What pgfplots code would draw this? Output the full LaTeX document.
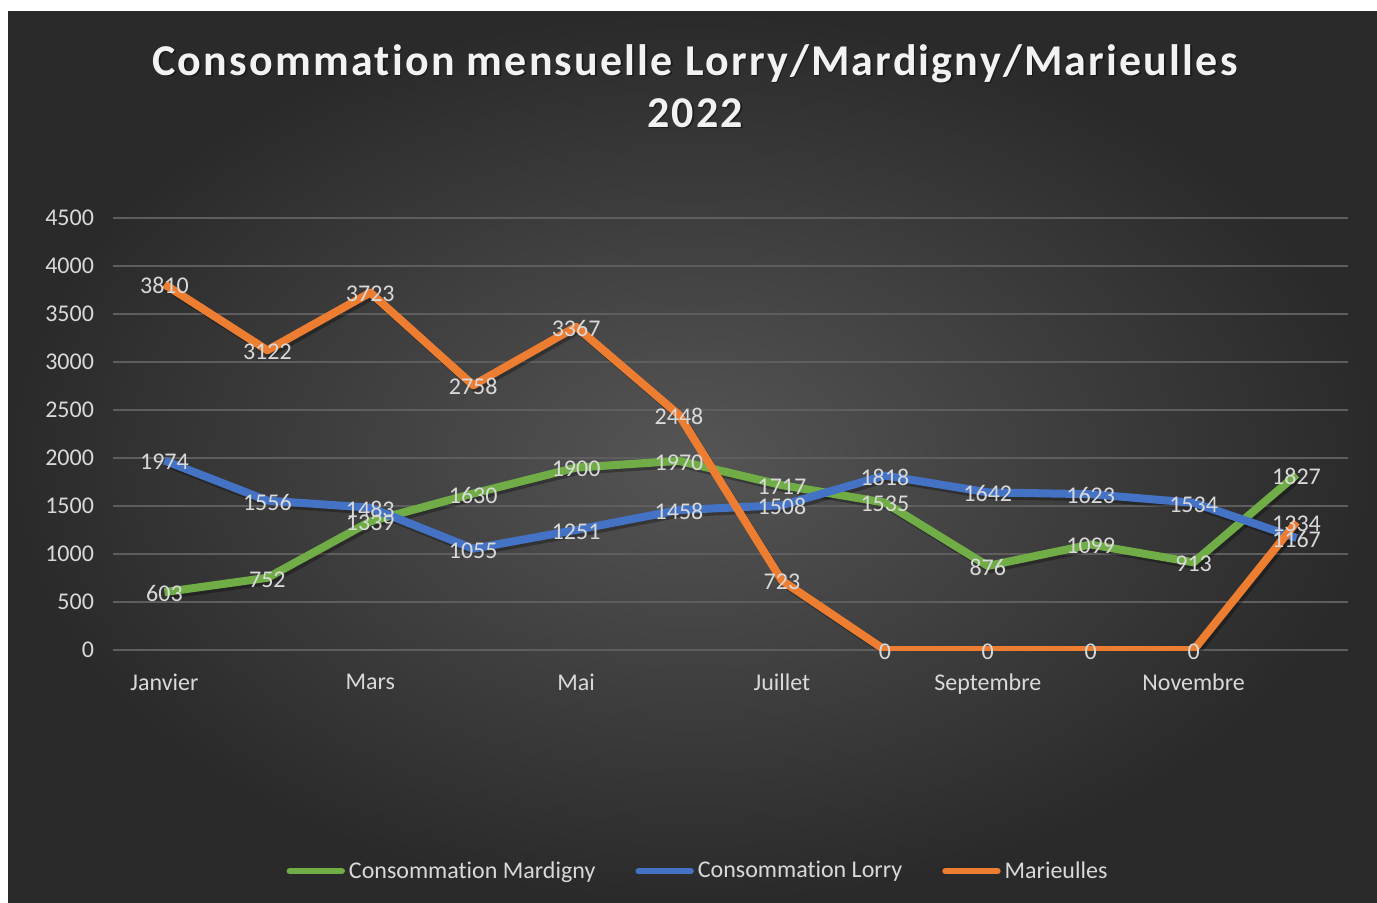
\documentclass[border=0pt]{standalone}
\usepackage{fontspec}
\setmainfont{Carlito}[Ligatures=NoCommon]
\newfontfamily\titlefont[LetterSpace=5,Ligatures=NoCommon]{Carlito}
\usepackage{pgfplots}
\pgfplotsset{compat=1.18}
\definecolor{cgreen}{HTML}{70AD47}
\definecolor{cblue}{HTML}{4472C4}
\definecolor{corange}{HTML}{ED7D31}
\definecolor{txt}{HTML}{D9D9D9}
\definecolor{gridc}{HTML}{5E5E5E}
\definecolor{bgin}{HTML}{555555}
\definecolor{bgout}{HTML}{2A2A2A}
\begin{document}
\begin{tikzpicture}[x=1pt,y=1pt]
\useasboundingbox (0,0) rectangle (688.5,451);
\fill[white] (0,0) rectangle (688.5,451);
\shade[inner color=bgin, outer color=bgout] (4,0) rectangle (688.5,445);
\begin{axis}[
  scale only axis,
  width=617.5pt, height=216pt,
  at={(56.5pt,126pt)}, anchor=south west,
  xmin=-0.5, xmax=11.5,
  ymin=0, ymax=4500,
  ytick={0,500,...,4500},
  xtick={0,2,4,6,8,10},
  xticklabels={Janvier,Mars,Mai,Juillet,Septembre,Novembre},
  axis line style={draw=none},
  major tick length=0pt,
  ymajorgrids, grid style={gridc, line width=0.8pt},
  tick label style={txt, font=\fontsize{12}{14}\selectfont},
  xticklabel style={yshift=-8.5pt},
  yticklabel style={xshift=-6pt},
  /pgf/number format/.cd, 1000 sep={}, assume math mode=true, /pgfplots/.cd,
  legend style={at={(0.4745,-0.512)}, anchor=center, draw=none, fill=none,
    text=txt, font=\fontsize{12}{14}\selectfont, legend columns=3,
    /tikz/every even column/.append style={column sep=18pt}},
  legend image code/.code={\draw[#1, line width=3.2pt, line cap=round] (0pt,0pt) -- (26pt,0pt);},
  every node near coord/.append style={anchor=center, txt, font=\fontsize{12}{14}\selectfont, inner sep=0pt, yshift=-0.8pt},
]
% shadows
\addplot[black, opacity=0.3, line width=4pt, line join=round, shift={(1.2pt,-1.5pt)}, forget plot] coordinates {(0,603)(1,752)(2,1339)(3,1630)(4,1900)(5,1970)(6,1717)(7,1535)(8,876)(9,1099)(10,913)(11,1827)};
\addplot[black, opacity=0.3, line width=4pt, line join=round, shift={(1.2pt,-1.5pt)}, forget plot] coordinates {(0,1974)(1,1556)(2,1483)(3,1055)(4,1251)(5,1458)(6,1508)(7,1818)(8,1642)(9,1623)(10,1534)(11,1167)};
\addplot[black, opacity=0.3, line width=4pt, line join=round, shift={(1.2pt,-1.5pt)}, forget plot] coordinates {(0,3810)(1,3122)(2,3723)(3,2758)(4,3367)(5,2448)(6,723)(7,0)(8,0)(9,0)(10,0)(11,1334)};
% lines
\addplot[cgreen, line width=4pt, line join=round] coordinates {(0,603)(1,752)(2,1339)(3,1630)(4,1900)(5,1970)(6,1717)(7,1535)(8,876)(9,1099)(10,913)(11,1827)};
\addlegendentry{Consommation Mardigny}
\addplot[cblue, line width=4pt, line join=round] coordinates {(0,1974)(1,1556)(2,1483)(3,1055)(4,1251)(5,1458)(6,1508)(7,1818)(8,1642)(9,1623)(10,1534)(11,1167)};
\addlegendentry{Consommation Lorry}
\addplot[corange, line width=4pt, line join=round] coordinates {(0,3810)(1,3122)(2,3723)(3,2758)(4,3367)(5,2448)(6,723)(7,0)(8,0)(9,0)(10,0)(11,1334)};
\addlegendentry{Marieulles}
% labels
\addplot[draw=none, nodes near coords, forget plot] coordinates {(0,603)(1,752)(2,1339)(3,1630)(4,1900)(5,1970)(6,1717)(7,1535)(8,876)(9,1099)(10,913)(11,1827)};
\addplot[draw=none, nodes near coords, forget plot] coordinates {(0,1974)(1,1556)(2,1483)(3,1055)(4,1251)(5,1458)(6,1508)(7,1818)(8,1642)(9,1623)(10,1534)(11,1167)};
\addplot[draw=none, nodes near coords, forget plot] coordinates {(0,3810)(1,3122)(2,3723)(3,2758)(4,3367)(5,2448)(6,723)(7,0)(8,0)(9,0)(10,0)(11,1334)};
\end{axis}
\node[black, opacity=0.4, align=center, font=\titlefont\bfseries\fontsize{22}{26}\selectfont] at (348.3,407.2) {Consommation mensuelle Lorry/Mardigny/Marieulles\\2022};
\node[white!95!black, align=center, font=\titlefont\bfseries\fontsize{22}{26}\selectfont] at (347.5,408) {Consommation mensuelle Lorry/Mardigny/Marieulles\\2022};
\end{tikzpicture}
\end{document}
